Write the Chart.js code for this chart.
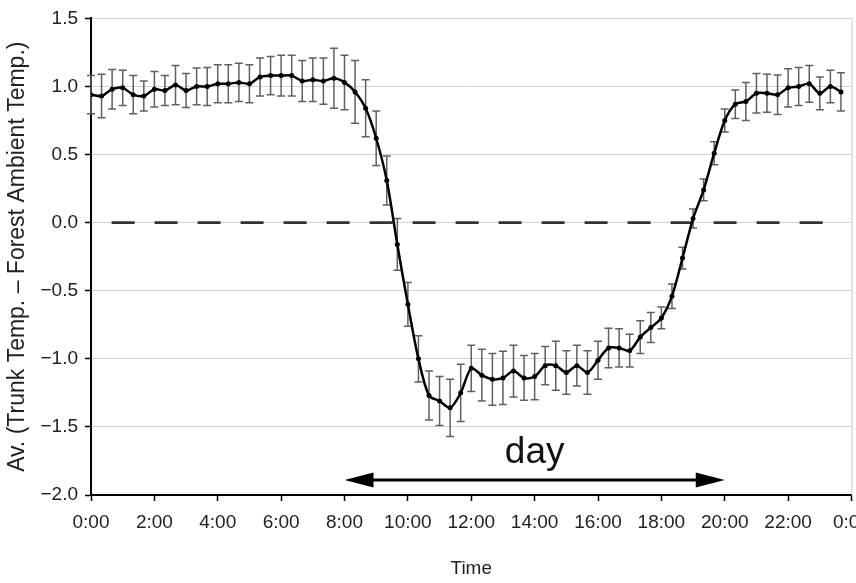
<!DOCTYPE html>
<html lang="en">
<head>
<meta charset="UTF-8">
<title>Trunk temperature difference</title>
<script src="https://cdn.jsdelivr.net/npm/chart.js@4/dist/chart.umd.min.js"></script>
<style>
*{margin:0;padding:0;box-sizing:border-box}
html,body{width:856px;height:583px;overflow:hidden;background:#fff}
.wrap{position:relative;width:880px;height:583px}
</style>
</head>
<body>
<div class="wrap"><canvas id="c"></canvas></div>
<script>
// time of day, every 20 min
var times = ["0:00","0:20","0:40","1:00","1:20","1:40","2:00","2:20","2:40","3:00","3:20","3:40",
  "4:00","4:20","4:40","5:00","5:20","5:40","6:00","6:20","6:40","7:00","7:20","7:40",
  "8:00","8:20","8:40","9:00","9:20","9:40","10:00","10:20","10:40","11:00","11:20","11:40",
  "12:00","12:20","12:40","13:00","13:20","13:40","14:00","14:20","14:40","15:00","15:20","15:40",
  "16:00","16:20","16:40","17:00","17:20","17:40","18:00","18:20","18:40","19:00","19:20","19:40",
  "20:00","20:20","20:40","21:00","21:20","21:40","22:00","22:20","22:40","23:00","23:20","23:40"];

// mean difference (trunk - forest ambient)
var meanDiff = [0.94,0.93,0.98,0.99,0.94,0.93,0.98,0.97,1.01,0.97,1.00,1.00,
  1.02,1.02,1.03,1.02,1.07,1.08,1.08,1.08,1.04,1.05,1.04,1.06,
  1.03,0.96,0.84,0.62,0.31,-0.16,-0.60,-1.00,-1.27,-1.31,-1.36,-1.25,
  -1.07,-1.12,-1.15,-1.14,-1.09,-1.14,-1.13,-1.05,-1.05,-1.10,-1.05,-1.10,
  -1.01,-0.92,-0.92,-0.94,-0.84,-0.77,-0.70,-0.54,-0.26,0.03,0.24,0.51,
  0.75,0.87,0.89,0.95,0.95,0.94,0.99,1.00,1.02,0.95,1.00,0.96];

// error bar half-width
var errDiff = [0.14,0.16,0.145,0.13,0.14,0.11,0.13,0.11,0.145,0.125,0.135,0.14,
  0.14,0.14,0.14,0.14,0.14,0.14,0.15,0.15,0.15,0.16,0.17,0.22,
  0.20,0.23,0.21,0.20,0.18,0.19,0.16,0.17,0.18,0.18,0.21,0.21,
  0.17,0.19,0.19,0.195,0.19,0.165,0.17,0.14,0.18,0.16,0.15,0.16,
  0.14,0.145,0.14,0.12,0.12,0.11,0.08,0.09,0.08,0.07,0.08,0.085,
  0.085,0.105,0.14,0.145,0.14,0.145,0.14,0.14,0.135,0.12,0.12,0.14];

// dashed zero reference line, hours
var zeroLineFrom = 0.65, zeroLineTo = 23.3;
// "day" arrow, hours
var dayStart = 8, dayEnd = 20, dayLabel = "day";

function toHours(s){ var p = s.split(":"); return +p[0] + (+p[1]) / 60; }

var meanPts = times.map(function(t, i){ return {x: toHours(t), y: meanDiff[i]}; });
var FONT = "'Liberation Sans', Arial, sans-serif";

var errorBars = {
  id: "errorBars",
  beforeDatasetsDraw: function(chart){
    var ctx = chart.ctx, xs = chart.scales.x, ys = chart.scales.y;
    ctx.save();
    ctx.strokeStyle = "#606060";
    ctx.lineWidth = 1.5;
    meanPts.forEach(function(p, i){
      var x = xs.getPixelForValue(p.x);
      var y1 = ys.getPixelForValue(p.y + errDiff[i]);
      var y2 = ys.getPixelForValue(p.y - errDiff[i]);
      ctx.beginPath();
      ctx.moveTo(x, y1); ctx.lineTo(x, y2);
      ctx.moveTo(x - 4, y1); ctx.lineTo(x + 4, y1);
      ctx.moveTo(x - 4, y2); ctx.lineTo(x + 4, y2);
      ctx.stroke();
    });
    // right frame
    var a = chart.chartArea;
    ctx.strokeStyle = "#c8c8c8";
    ctx.lineWidth = 1;
    ctx.beginPath();
    ctx.moveTo(a.right + 0.5, a.top); ctx.lineTo(a.right + 0.5, a.bottom);
    ctx.stroke();
    ctx.restore();
  }
};

var dayArrow = {
  id: "dayArrow",
  afterDatasetsDraw: function(chart){
    var ctx = chart.ctx, xs = chart.scales.x, ys = chart.scales.y;
    var x1 = xs.getPixelForValue(dayStart), x2 = xs.getPixelForValue(dayEnd);
    var y = ys.getPixelForValue(-1.89);
    var hl = 29, hh = 7.5;
    ctx.save();
    ctx.strokeStyle = "#000"; ctx.fillStyle = "#000"; ctx.lineWidth = 3;
    ctx.beginPath(); ctx.moveTo(x1 + hl - 4, y); ctx.lineTo(x2 - hl + 4, y); ctx.stroke();
    ctx.beginPath(); ctx.moveTo(x1, y); ctx.lineTo(x1 + hl, y - hh); ctx.lineTo(x1 + hl, y + hh); ctx.closePath(); ctx.fill();
    ctx.beginPath(); ctx.moveTo(x2, y); ctx.lineTo(x2 - hl, y - hh); ctx.lineTo(x2 - hl, y + hh); ctx.closePath(); ctx.fill();
    ctx.font = "37px " + FONT;
    ctx.textAlign = "center"; ctx.textBaseline = "alphabetic";
    ctx.fillStyle = "#111";
    ctx.fillText(dayLabel, xs.getPixelForValue((dayStart + dayEnd) / 2), ys.getPixelForValue(-1.765));
    ctx.restore();
  }
};

function fmtY(v){
  if (Math.abs(v) < 1e-9) return "0.0";
  return (v < 0 ? "\u2212" : "") + Math.abs(v).toFixed(1);
}

new Chart(document.getElementById("c"), {
  type: "line",
  data: {
    datasets: [{
      data: meanPts,
      borderColor: "#000",
      backgroundColor: "#000",
      borderWidth: 2.5,
      pointRadius: 2.5,
      pointBorderWidth: 0,
      tension: 0.3,
      order: 1
    }, {
      data: [{x: zeroLineFrom, y: 0}, {x: zeroLineTo, y: 0}],
      borderColor: "#333",
      borderWidth: 2.7,
      borderDash: [23, 20],
      pointRadius: 0,
      order: 2
    }]
  },
  options: {
    responsive: true,
    maintainAspectRatio: false,
    animation: false,
    events: [],
    layout: {padding: {top: 18, right: 28, bottom: 0, left: 0}},
    plugins: {legend: {display: false}, tooltip: {enabled: false}},
    scales: {
      x: {
        type: "linear", min: 0, max: 24,
        afterFit: function(s){ s.height = 88; },
        ticks: {
          stepSize: 2, padding: 10, color: "#222", maxRotation: 0,
          font: {family: FONT, size: 19},
          callback: function(v){ return (v % 24) + ":00"; }
        },
        grid: {drawOnChartArea: false, drawTicks: true, tickLength: 6, tickColor: "#000", tickWidth: 1.5},
        border: {color: "#000", width: 2},
        title: {display: true, text: "Time", color: "#222", font: {family: FONT, size: 19}, padding: {top: 0, bottom: 3}}
      },
      y: {
        min: -2, max: 1.5,
        afterFit: function(s){ s.width = 91; },
        ticks: {
          stepSize: 0.5, padding: 7, color: "#222",
          font: {family: FONT, size: 19},
          callback: fmtY
        },
        grid: {color: "#d2d2d2", lineWidth: 1, drawTicks: true, tickLength: 6, tickColor: "#000", tickWidth: 1.5},
        border: {color: "#000", width: 2},
        title: {display: true, text: "Av. (Trunk Temp. \u2013 Forest Ambient Temp.)", color: "#222", font: {family: FONT, size: 23}, padding: {top: 4, bottom: 0}}
      }
    }
  },
  plugins: [errorBars, dayArrow]
});
</script>
</body>
</html>
